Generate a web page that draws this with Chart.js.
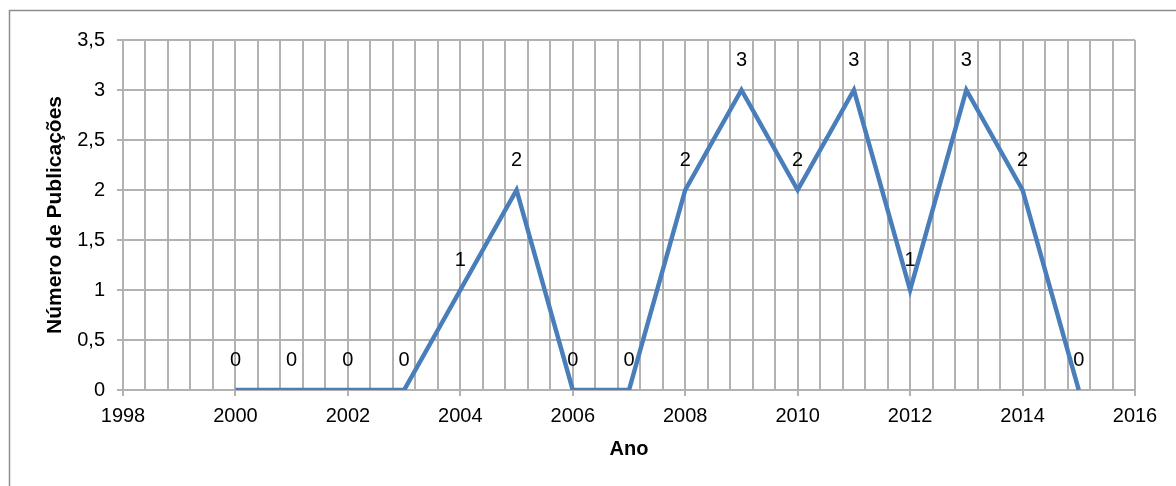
<!DOCTYPE html>
<html lang="pt">
<head>
<meta charset="utf-8">
<title>Número de Publicações por Ano</title>
<script src="https://cdn.jsdelivr.net/npm/chart.js@4.4.1/dist/chart.umd.min.js"></script>
<style>
  html, body { margin: 0; padding: 0; background: #fff; }
  #wrap { position: relative; width: 1176px; height: 486px; }
</style>
</head>
<body>
<div id="wrap"><canvas id="pubChart" width="1176" height="486"></canvas></div>
<script>
// publications per year
const years = [2000, 2001, 2002, 2003, 2004, 2005, 2006, 2007, 2008, 2009, 2010, 2011, 2012, 2013, 2014, 2015];
const publications = [0, 0, 0, 0, 1, 2, 0, 0, 2, 3, 2, 3, 1, 3, 2, 0];

const xMin = 1998;
const xMax = 2016;
const xGridStep = 0.4;   // minor vertical gridlines
const xLabelEvery = 5;   // every 5th gridline (2 years) gets a label
const yMax = 3.5;
const yStep = 0.5;

const FONT = "'Liberation Sans', Arial, sans-serif";
const GRID = '#b2b2b2';
const LINE = '#4a7ebb';

// frame around the whole chart
const framePlugin = {
  id: 'frame',
  beforeDraw(chart) {
    const ctx = chart.ctx;
    ctx.save();
    ctx.strokeStyle = '#8e8e8e';
    ctx.lineWidth = 1.5;
    ctx.strokeRect(9.5, 10.5, chart.width + 20, chart.height + 20);
    ctx.restore();
  }
};

// value above each point
const pointLabels = {
  id: 'pointLabels',
  afterDatasetsDraw(chart) {
    const ctx = chart.ctx;
    const meta = chart.getDatasetMeta(0);
    const values = chart.data.datasets[0].data;
    ctx.save();
    ctx.font = '20px ' + FONT;
    ctx.fillStyle = '#000';
    ctx.textAlign = 'center';
    ctx.textBaseline = 'middle';
    meta.data.forEach((pt, i) => {
      ctx.fillText(String(values[i].y), pt.x, pt.y - 30);
    });
    ctx.restore();
  }
};

new Chart(document.getElementById('pubChart'), {
  type: 'line',
  data: {
    datasets: [{
      data: years.map((y, i) => ({ x: y, y: publications[i] })),
      borderColor: LINE,
      borderWidth: 4.5,
      pointRadius: 0,
      fill: false,
      tension: 0
    }]
  },
  options: {
    responsive: false,
    animation: false,
    layout: { padding: { left: 0, right: 41, top: 40, bottom: 0 } },
    plugins: {
      legend: { display: false },
      tooltip: { enabled: false }
    },
    scales: {
      x: {
        type: 'linear',
        min: xMin,
        max: xMax,
        afterBuildTicks(scale) {
          const n = Math.round((xMax - xMin) / xGridStep);
          const ticks = [];
          for (let i = 0; i <= n; i++) {
            ticks.push({ value: Math.round((xMin + i * xGridStep) * 10) / 10 });
          }
          scale.ticks = ticks;
        },
        afterFit(scale) { scale.height = 96; },
        ticks: {
          autoSkip: false,
          maxRotation: 0,
          padding: 8,
          color: '#000',
          font: { family: FONT, size: 20 },
          callback: (v, i) => (i % xLabelEvery === 0 ? String(Math.round(v)) : '')
        },
        grid: {
          color: GRID,
          lineWidth: 2,
          tickLength: 6,
          tickColor: ctx => (ctx.index % xLabelEvery === 0 ? GRID : 'rgba(0,0,0,0)')
        },
        border: { color: GRID, width: 2 },
        title: {
          display: true,
          text: 'Ano',
          color: '#000',
          font: { family: FONT, size: 20, weight: 'bold' },
          padding: { top: 0, bottom: 25 }
        }
      },
      y: {
        min: 0,
        max: yMax,
        afterFit(scale) { scale.width = 123; },
        ticks: {
          stepSize: yStep,
          padding: 12,
          color: '#000',
          font: { family: FONT, size: 20 },
          callback: v => String(v).replace('.', ',')
        },
        grid: { color: GRID, lineWidth: 2, tickLength: 6, tickColor: GRID },
        border: { color: GRID, width: 2 },
        title: {
          display: true,
          text: 'Número de Publicações',
          color: '#000',
          font: { family: FONT, size: 21, weight: 'bold' },
          padding: { top: 43, bottom: 0 }
        }
      }
    }
  },
  plugins: [framePlugin, pointLabels]
});
</script>
</body>
</html>
